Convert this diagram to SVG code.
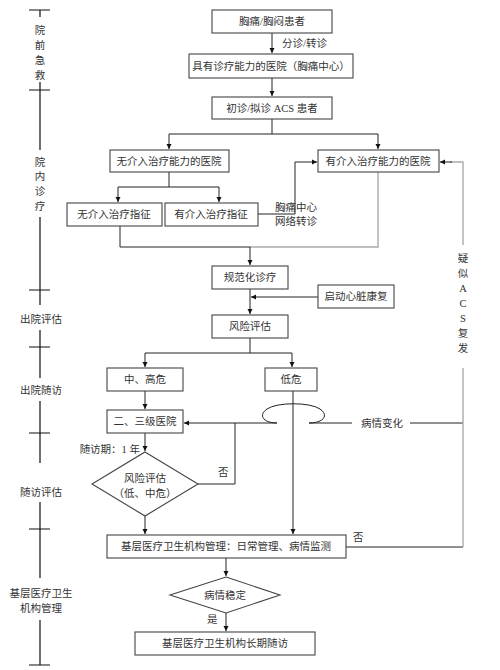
<svg xmlns="http://www.w3.org/2000/svg" width="500" height="670" viewBox="0 0 500 670">
<defs>
<marker id="ah" viewBox="0 0 10 10" refX="10" refY="5" markerWidth="5" markerHeight="7" orient="auto" markerUnits="userSpaceOnUse">
<path d="M0,0 L10,5 L0,10 z" fill="#111"/>
</marker>
<style>
text{font-family:"Liberation Serif","Noto Sans CJK SC",serif;font-size:10.5px;fill:#333;}
.c{text-anchor:middle;}
.box{fill:#fff;stroke:#444;stroke-width:1.1;}
.ln{fill:none;stroke:#222;stroke-width:1;}
.gl{fill:none;stroke:#aaa;stroke-width:1.4;}
.ar{marker-end:url(#ah);}
.tl{fill:none;stroke:#111;stroke-width:1.2;}
</style>
</defs>
<rect width="500" height="670" fill="#fff"/>

<g id="timeline">
<path class="tl" d="M29,10H50M40,10V17M40,82V150M29,90H50M40,217V305M29,290H50M40,330V378M29,347H50M40,401V463M29,433H50M40,502V578M29,529H50M40,620V665M29,665H50"/>
<text class="c" x="40" y="34">院</text>
<text class="c" x="40" y="49">前</text>
<text class="c" x="40" y="64">急</text>
<text class="c" x="40" y="79">救</text>
<text class="c" x="40" y="166">院</text>
<text class="c" x="40" y="180">内</text>
<text class="c" x="40" y="195">诊</text>
<text class="c" x="40" y="210">疗</text>
<text class="c" x="41" y="323">出院评估</text>
<text class="c" x="41" y="394">出院随访</text>
<text class="c" x="41" y="496">随访评估</text>
<text class="c" x="41" y="597">基层医疗卫生</text>
<text class="c" x="41" y="612">机构管理</text>
</g>

<g id="connectors">
<path class="ln ar" d="M272,33V53"/>
<path class="ln ar" d="M272,78V96"/>
<path class="ln" d="M272,119V134M169,134H378"/>
<path class="ln ar" d="M169,134V149"/>
<path class="ln ar" d="M378,134V149"/>
<path class="ln" d="M169,172V187M118,187H219"/>
<path class="ln ar" d="M118,187V202"/>
<path class="ln ar" d="M219,187V202"/>
<path class="ln ar" d="M258,214H295V162H317"/>
<path class="ln" d="M120,226V247H250"/>
<path class="gl" d="M378,172V247H250"/>
<path class="ln ar" d="M250,247V265"/>
<path class="ln ar" d="M250,289V314"/>
<path class="ln ar" d="M318,297H251"/>
<path class="ln" d="M250,338V353M145,353H292"/>
<path class="ln ar" d="M145,353V367"/>
<path class="ln ar" d="M292,353V367"/>
<path class="ln ar" d="M145,391V409"/>
<path class="ln ar" d="M293,391V534"/>
<path class="ln" d="M463,423H410M352,423H309"/>
<path class="ln" d="M309,423C324,423 329,415 320,409C310,402 277,402 267,409C258,415 263,423 277,423"/>
<path class="ln ar" d="M277,423H184"/>
<path class="ln" d="M235,423V484H198"/>
<path class="ln ar" d="M145,433V451"/>
<path class="ln ar" d="M145,516V534"/>
<path class="ln" d="M346,547H463"/>
<path class="gl" d="M463,547V368M463,245V162H450"/>
<path class="ln ar" d="M452,162H440"/>
<path class="ln ar" d="M226,558V576"/>
<path class="ln ar" d="M226,613V631"/>
<text x="282" y="47">分诊/转诊</text>
<text x="275" y="211">胸痛中心</text>
<text x="275" y="225">网络转诊</text>
<text class="c" x="382" y="427">病情变化</text>
<text x="218" y="476">否</text>
<text x="140" y="453" text-anchor="end">随访期：1 年</text>
<text x="353" y="541">否</text>
<text x="207" y="623">是</text>
<text class="c" x="463" y="262">疑</text>
<text class="c" x="463" y="277">似</text>
<text class="c" x="463" y="292">A</text>
<text class="c" x="463" y="307">C</text>
<text class="c" x="463" y="322">S</text>
<text class="c" x="463" y="337">复</text>
<text class="c" x="463" y="352">发</text>
</g>

<g id="n1"><rect class="box" x="212" y="10" width="120" height="23"/><text class="c" x="272" y="25">胸痛/胸闷患者</text></g>
<g id="n2"><rect class="box" x="189" y="54" width="164" height="24"/><text class="c" x="271" y="70">具有诊疗能力的医院（胸痛中心）</text></g>
<g id="n3"><rect class="box" x="212" y="97" width="120" height="22"/><text class="c" x="272" y="112">初诊/拟诊 ACS 患者</text></g>
<g id="n4"><rect class="box" x="110" y="150" width="119" height="22"/><text class="c" x="169" y="165">无介入治疗能力的医院</text></g>
<g id="n5"><rect class="box" x="318" y="150" width="121" height="22"/><text class="c" x="378" y="165">有介入治疗能力的医院</text></g>
<g id="n6"><rect class="box" x="67" y="203" width="95" height="23"/><text class="c" x="114" y="218">无介入治疗指征</text></g>
<g id="n7"><rect class="box" x="165" y="203" width="93" height="23"/><text class="c" x="211" y="218">有介入治疗指征</text></g>
<g id="n8"><rect class="box" x="212" y="266" width="76" height="23"/><text class="c" x="250" y="281">规范化诊疗</text></g>
<g id="n9"><rect class="box" x="318" y="285" width="76" height="23"/><text class="c" x="356" y="300">启动心脏康复</text></g>
<g id="n10"><rect class="box" x="212" y="315" width="76" height="23"/><text class="c" x="250" y="330">风险评估</text></g>
<g id="n11"><rect class="box" x="107" y="368" width="76" height="23"/><text class="c" x="145" y="383">中、高危</text></g>
<g id="n12"><rect class="box" x="265" y="368" width="52" height="23"/><text class="c" x="291" y="383">低危</text></g>
<g id="n13"><rect class="box" x="107" y="410" width="76" height="23"/><text class="c" x="145" y="425">二、三级医院</text></g>
<g id="n14"><path class="box" d="M145,452L198,484L145,516L92,484Z"/><text class="c" x="145" y="482">风险评估</text><text class="c" x="145" y="497">（低、中危）</text></g>
<g id="n15"><rect class="box" x="107" y="535" width="239" height="23"/><text class="c" x="226" y="550">基层医疗卫生机构管理：日常管理、病情监测</text></g>
<g id="n16"><path class="box" d="M226,577L280,595L226,613L170,595Z"/><text class="c" x="225" y="599">病情稳定</text></g>
<g id="n17"><rect class="box" x="135" y="632" width="180" height="23"/><text class="c" x="225" y="647">基层医疗卫生机构长期随访</text></g>
</svg>
